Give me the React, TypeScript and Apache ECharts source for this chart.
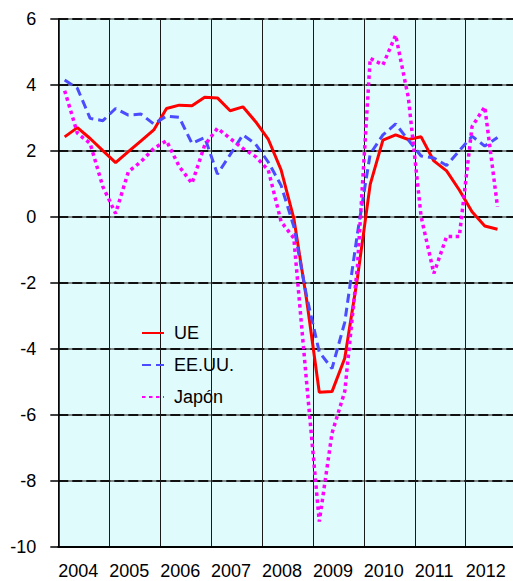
import React, { useEffect, useRef } from "react";
import * as echarts from "echarts";

const years = [2004, 2005, 2006, 2007, 2008, 2009, 2010, 2011, 2012];
const quarters = [1, 2, 3, 4];
const yTicks = { min: -10, max: 6, interval: 2 };

const seriesNames = ["UE", "EE.UU.", "Japón"];

const ue = [2.42, 2.7, 2.37, 2.0, 1.64, 1.97, 2.3, 2.63, 3.28, 3.38, 3.36, 3.62, 3.6, 3.21, 3.33, 2.88, 2.34, 1.42, -0.05, -2.5, -5.32, -5.3, -4.29, -1.85, 0.98, 2.32, 2.48, 2.34, 2.42, 1.69, 1.39, 0.81, 0.15, -0.28, -0.38];
const eeuu = [4.14, 3.89, 2.98, 2.91, 3.28, 3.08, 3.11, 2.81, 3.05, 3.01, 2.22, 2.4, 1.29, 1.88, 2.48, 2.2, 1.65, 0.95, -0.3, -2.4, -4.1, -4.6, -3.2, -0.5, 1.9, 2.48, 2.81, 2.32, 1.84, 1.78, 1.55, 2.0, 2.44, 2.14, 2.4];
const japon = [3.82, 2.53, 2.22, 0.91, 0.1, 1.36, 1.67, 2.07, 2.3, 1.52, 1.01, 2.17, 2.68, 2.37, 2.07, 1.82, 1.41, -0.15, -0.65, -5.0, -9.24, -6.56, -5.3, -1.5, 4.8, 4.6, 5.5, 3.6, 0.0, -1.72, -0.6, -0.6, 2.73, 3.33, 0.3];

const FONT = "'Liberation Sans', Arial, sans-serif";

export default function App() {
  const ref = useRef<HTMLDivElement>(null);
  useEffect(() => {
    if (!ref.current) return;
    const chart = echarts.init(ref.current, undefined, { renderer: "svg" });
    const quarterPos = years.flatMap((y) => quarters.map((q) => y + (q - 0.5) / 4));
    const pair = (vals: number[]) => vals.map((v, i) => [quarterPos[i], v]);
    const baseLine = { type: "line", symbol: "none", showSymbol: false, yAxisIndex: 1, silent: true };
    chart.setOption({
      animation: false,
      backgroundColor: "#ffffff",
      textStyle: { fontFamily: FONT },
      grid: {
        left: 58.3,
        top: 18.7,
        right: 540 - 516.6,
        bottom: 581 - 546.7,
        show: true,
        backgroundColor: "#E0FBFB",
        borderWidth: 0,
      },
      legend: {
        orient: "vertical",
        left: 136,
        top: 319,
        itemWidth: 22,
        itemHeight: 14,
        itemGap: 14,
        itemStyle: { opacity: 0, borderWidth: 0 },
        textStyle: { fontSize: 18, color: "#000", fontFamily: FONT, padding: [0, 0, 0, 5] },
        data: seriesNames,
      },
      xAxis: {
        type: "value",
        min: years[0],
        max: years[years.length - 1] + 1,
        interval: 1,
        axisLine: { show: true, onZero: false, lineStyle: { color: "#000", width: 2 } },
        axisTick: { show: false },
        splitLine: { show: true, lineStyle: { color: "#1a1a1a", width: 1 } },
        axisLabel: {
          align: "left",
          margin: 15,
          fontSize: 18,
          color: "#000",
          fontFamily: FONT,
          showMinLabel: true,
          showMaxLabel: false,
          formatter: (v: number) => (years.includes(v) ? String(v) : ""),
        },
      },
      yAxis: [
        {
          type: "value",
          position: "left",
          min: yTicks.min,
          max: yTicks.max,
          interval: yTicks.interval,
          axisLine: { show: false },
          axisTick: { show: false },
          axisLabel: { show: false },
          splitLine: { show: true, lineStyle: { color: "#7f8a8a", width: 2 } },
        },
        {
          type: "value",
          position: "left",
          min: yTicks.min,
          max: yTicks.max,
          interval: yTicks.interval,
          axisLine: { show: true, onZero: false, lineStyle: { color: "#000", width: 1.5 } },
          axisTick: { show: true, length: 8, lineStyle: { color: "#000", width: 1.5 } },
          axisLabel: { margin: 22, fontSize: 18, color: "#000", fontFamily: FONT },
          splitLine: { show: true, lineStyle: { color: "#111", width: 2, type: [10, 4] } },
        },
      ],
      series: [
        { ...baseLine, name: seriesNames[0], data: pair(ue), lineStyle: { color: "#FF0000", width: 3 }, itemStyle: { color: "#FF0000" } },
        { ...baseLine, name: seriesNames[1], data: pair(eeuu), lineStyle: { color: "#4B4BFF", width: 3, type: [9, 5] }, itemStyle: { color: "#4B4BFF" } },
        { ...baseLine, name: seriesNames[2], data: pair(japon), lineStyle: { color: "#FF00FF", width: 3.5, type: [3.5, 3.5] }, itemStyle: { color: "#FF00FF" } },
      ],
    });
    return () => chart.dispose();
  }, []);
  return (
    <div style={{ position: "absolute", left: 0, top: 0, width: 513, height: 581, overflow: "hidden", background: "#fff" }}>
      <div ref={ref} style={{ width: 540, height: 581 }} />
    </div>
  );
}
